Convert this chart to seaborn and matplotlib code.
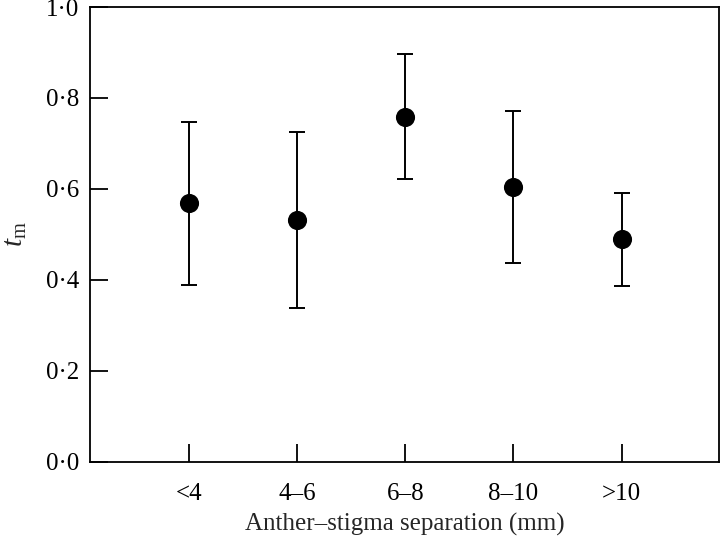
import matplotlib
matplotlib.use("Agg")
import matplotlib.pyplot as plt
import seaborn as sns
import pandas as pd

categories = ["<4", "4\u20136", "6\u20138", "8\u201310", ">10"]
tm_mean = [0.569, 0.532, 0.759, 0.604, 0.489]
tm_upper = [0.748, 0.726, 0.897, 0.771, 0.591]
tm_lower = [0.389, 0.338, 0.621, 0.437, 0.387]
yticks = [0.0, 0.2, 0.4, 0.6, 0.8, 1.0]
ytick_labels = ["0\u00b70", "0\u00b72", "0\u00b74", "0\u00b76", "0\u00b78", "1\u00b70"]

sns.set_theme(style="ticks")
plt.rcParams["font.family"] = ["Liberation Serif", "DejaVu Serif"]
plt.rcParams["mathtext.fontset"] = "custom"
plt.rcParams["mathtext.rm"] = "Liberation Serif"
plt.rcParams["mathtext.it"] = "Liberation Serif:italic"

df = pd.DataFrame({"cat": categories, "mean": tm_mean,
                   "lo": tm_lower, "hi": tm_upper})

fig = plt.figure(figsize=(7.2, 5.39), dpi=100)
ax = fig.add_axes([0.125, 0.143, 0.8736, 0.844])

err_low = [m - l for m, l in zip(tm_mean, tm_lower)]
err_high = [h - m for m, h in zip(tm_mean, tm_upper)]
xpos = list(range(len(categories)))
ax.errorbar(xpos, tm_mean, yerr=[err_low, err_high], fmt="none",
            ecolor="black", elinewidth=1.4, capsize=5.5, capthick=1.4, zorder=2)
sns.scatterplot(x=xpos, y=df["mean"], ax=ax, color="black", s=190,
                edgecolor="black", linewidth=0, zorder=3, legend=False)

ax.set_xlim(-0.915, 4.9)
ax.set_ylim(0, 1.0)
ax.set_xticks(xpos)
ax.set_xticklabels(categories)
ax.set_yticks(yticks)
ax.set_yticklabels(ytick_labels)
ax.tick_params(axis="both", direction="in", length=13, width=1.3,
               labelsize=18, colors="black", pad=8)
ax.tick_params(axis="x", pad=15)
for sp in ax.spines.values():
    sp.set_linewidth(1.3)
    sp.set_color("black")
    sp.set_visible(True)

ax.set_xlabel("Anther\u2013stigma separation (mm)", fontsize=18, labelpad=6)
ax.set_ylabel(r"$t_{\mathrm{m}}$", fontsize=21)
ax.yaxis.set_label_coords(-0.097, 0.5)
ax.grid(False)
fig.savefig("out.png", dpi=100)
